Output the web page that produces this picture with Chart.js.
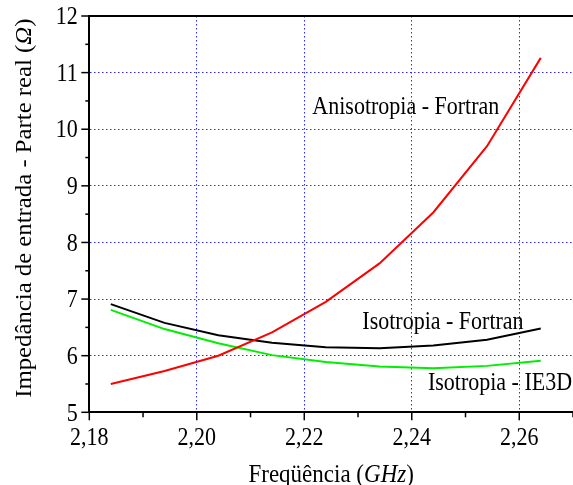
<!DOCTYPE html>
<html><head><meta charset="utf-8">
<script src="https://cdn.jsdelivr.net/npm/chart.js@4.4.0/dist/chart.umd.min.js"></script>
<style>html,body{margin:0;padding:0;background:#fff;overflow:hidden}#wrap{width:573px;height:485px}</style>
</head><body><div id="wrap"><canvas id="c" width="573" height="485"></canvas></div>
<script>
const freq = [2.184, 2.194, 2.204, 2.214, 2.224, 2.234, 2.244, 2.254, 2.264];
const anisoFortran = [5.50, 5.73, 6.00, 6.41, 6.95, 7.63, 8.53, 9.70, 11.26];
const isoFortran = [6.91, 6.58, 6.36, 6.23, 6.15, 6.13, 6.18, 6.28, 6.48];
const isoIE3D = [6.81, 6.47, 6.22, 6.01, 5.89, 5.81, 5.78, 5.82, 5.91];
const xTicks = [2.18, 2.20, 2.22, 2.24, 2.26];
const yTicks = [5, 6, 7, 8, 9, 10, 11, 12];
const seriesLabels = ['Anisotropia - Fortran', 'Isotropia - Fortran', 'Isotropia - IE3D'];

const FONT = "'Liberation Serif', 'Times New Roman', serif";
const annots = [
  {text: seriesLabels[0], x: 2.2215, y: 10.263},
  {text: seriesLabels[1], x: 2.2308, y: 6.48},
  {text: seriesLabels[2], x: 2.2430, y: 5.39}
];
const fmtX = v => Number(v).toFixed(2).replace('.', ',');

function pts(ys){ return freq.map((f,i)=>({x:f, y:ys[i]})); }

function drawMixed(ctx, parts, size, align){
  let total = 0;
  const widths = parts.map(p=>{ctx.font=(p.i?'italic ':'')+size+'px '+FONT; const w=ctx.measureText(p.t).width; total+=w; return w;});
  let x = align==='center' ? -total/2 : (align==='right' ? -total : 0);
  parts.forEach((p,k)=>{ctx.font=(p.i?'italic ':'')+size+'px '+FONT; ctx.fillText(p.t, x, 0); x+=widths[k];});
}
function stretchedText(ctx, parts, size, px, py, align){
  ctx.save();
  ctx.translate(px, py);
  ctx.scale(1, 1.1);
  drawMixed(ctx, parts, size, align);
  ctx.restore();
}

const deco = {
  id: 'deco',
  afterDraw(chart){
    const {ctx, chartArea: a, scales: {x, y}} = chart;
    ctx.save();
    ctx.strokeStyle = '#000';
    ctx.lineWidth = 2;
    ctx.beginPath(); ctx.moveTo(a.left, a.top); ctx.lineTo(a.right, a.top); ctx.stroke();
    ctx.lineWidth = 1.5;
    for (let i = 0; i <= 9; i++) {
      const v = 2.18 + i*0.01;
      const px = x.getPixelForValue(v);
      const len = i % 2 === 0 ? 8 : 5;
      ctx.beginPath(); ctx.moveTo(px, a.bottom); ctx.lineTo(px, a.bottom + len); ctx.stroke();
    }
    for (let i = 0; i <= 14; i++) {
      const v = 5 + i*0.5;
      const py = y.getPixelForValue(v);
      const len = i % 2 === 0 ? 8 : 4;
      ctx.beginPath(); ctx.moveTo(a.left - len, py); ctx.lineTo(a.left, py); ctx.stroke();
    }
    ctx.fillStyle = '#000';
    ctx.textBaseline = 'alphabetic';
    ctx.textAlign = 'left';
    // tick labels
    xTicks.forEach(v => stretchedText(ctx, [{t: fmtX(v), i:false}], 22, x.getPixelForValue(v), 444.5, 'center'));
    yTicks.forEach(v => stretchedText(ctx, [{t: String(v), i:false}], 22, 77.7, y.getPixelForValue(v) + 8.2, 'right'));
    annots.forEach(an => stretchedText(ctx, [{t: an.text, i: false}], 22, x.getPixelForValue(an.x), y.getPixelForValue(an.y), 'left'));
    // x title
    stretchedText(ctx, [{t:'Freqüência (', i:false},{t:'GHz', i:true},{t:')', i:false}], 23, (a.left + a.right)/2, 481.5, 'center');
    // y title
    ctx.save();
    ctx.translate(31, (a.top + a.bottom)/2 - 6);
    ctx.rotate(-Math.PI/2);
    ctx.scale(1.1, 1);
    drawMixed(ctx, [{t:'Impedância de entrada - Parte real (', i:false},{t:'Ω', i:true},{t:')', i:false}], 22.5, 'center');
    ctx.restore();
    ctx.restore();
  }
};

const gridColor = '#2a2aff';
new Chart(document.getElementById('c'), {
  type: 'line',
  data: {
    datasets: [
      {label: seriesLabels[0], data: pts(anisoFortran), borderColor: '#ff0000', borderWidth: 2, pointRadius: 0, tension: 0, fill: false},
      {label: seriesLabels[1], data: pts(isoFortran), borderColor: '#000000', borderWidth: 2, pointRadius: 0, tension: 0, fill: false},
      {label: seriesLabels[2], data: pts(isoIE3D), borderColor: '#00ee00', borderWidth: 2, pointRadius: 0, tension: 0, fill: false}
    ]
  },
  options: {
    responsive: false,
    animation: false,
    layout: {padding: {top: 16, right: 0, left: 0, bottom: 0}},
    plugins: {legend: {display: false}, tooltip: {enabled: false}},
    scales: {
      x: {
        type: 'linear', min: 2.18, max: 2.27,
        afterBuildTicks(s){ s.ticks = xTicks.map(v=>({value: v})); },
        afterFit(s){ s.height = 72.7; },
        grid: {drawTicks: false, lineWidth: 1, color: c => (c.tick && c.tick.value > 2.181) ? gridColor : 'rgba(0,0,0,0)'},
        border: {display: true, color: '#000', width: 2, dash: [1.5, 2.5]},
        ticks: {display: false}
      },
      y: {
        type: 'linear', min: 5, max: 12,
        afterBuildTicks(s){ s.ticks = yTicks.map(v=>({value: v})); },
        afterFit(s){ s.width = 89.3; },
        grid: {drawTicks: false, lineWidth: 1, color: c => (c.tick && c.tick.value > 5.01 && c.tick.value < 11.99) ? gridColor : 'rgba(0,0,0,0)'},
        border: {display: true, color: '#000', width: 2, dash: [1.5, 2.5]},
        ticks: {display: false}
      }
    }
  },
  plugins: [deco]
});
</script>
</body></html>
